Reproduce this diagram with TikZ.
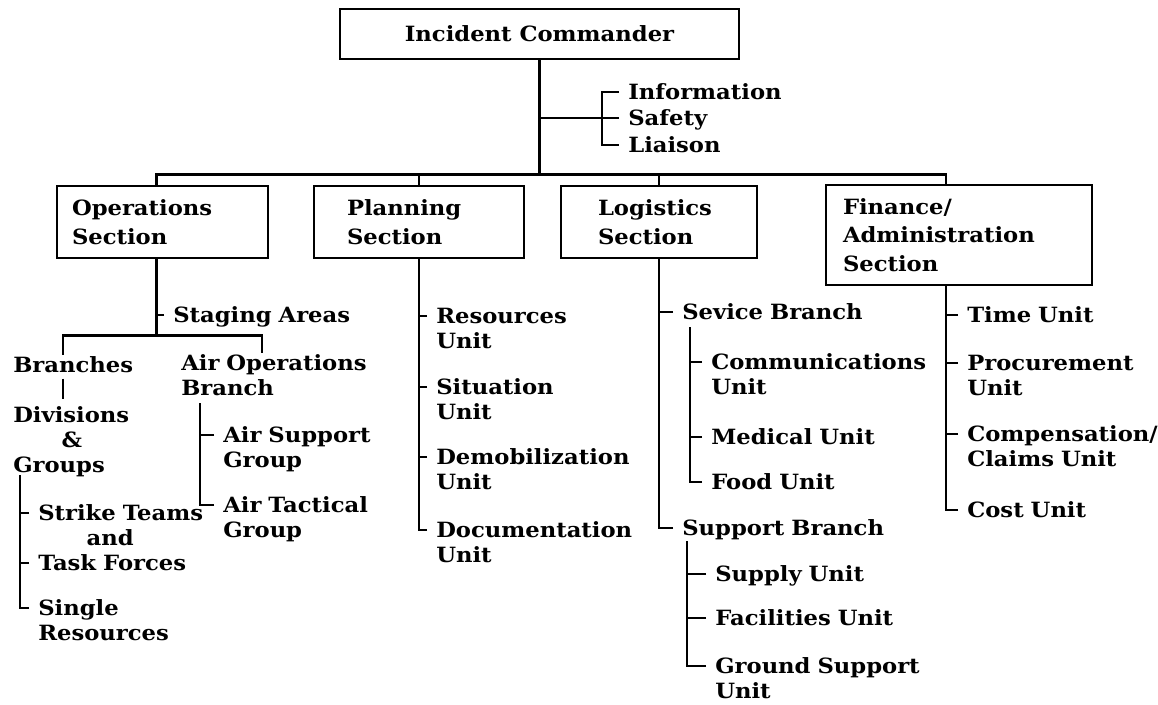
\documentclass[tikz,border=0pt]{standalone}
\usepackage{fontspec}
\setmainfont{DejaVu Serif}[FakeStretch=1.08]

\newcommand\boxfont{\fontsize{21}{28.5}\selectfont\bfseries}
\newcommand\itemfont{\fontsize{21}{25}\selectfont\bfseries}

\tikzset{
  box/.style={draw, line width=2.4pt, inner ysep=0pt, font=\boxfont},
  sect/.style 2 args={box, align=left, inner xsep=#1, text width=#2, minimum height=72pt},
  item/.style={anchor=base west, align=left, text width=10cm, inner sep=0pt, font=\itemfont},
  tk/.style={xshift=-8pt, yshift=7pt}
}

\begin{document}
\begin{tikzpicture}[x=1pt, y=-1pt, line width=2.6pt]
\useasboundingbox (0,0) rectangle (1158,704);

% incident commander and command staff
\node[box, minimum width=399pt, minimum height=50pt] (ic) at (539.5,34) {Incident Commander};
\draw (ic.south) -- ++(0,-114pt) coordinate (bus);
\node[item] (inf) at (627,99) {Information};
\node[item] (saf) at (627,125) {Safety};
\node[item] (lia) at (627,152) {Liaison};
\draw ([tk]inf.base west) -- ++(-17pt,0) |- ([tk]lia.base west);
\draw ([tk]saf.base west) -| (ic.south);

% sections
\node[sect={15pt}{181pt}] (ops) at (162.5,222) {Operations\\Section};
\node[sect={33pt}{144pt}] (pl) at (419,222) {Planning\\Section};
\node[sect={37pt}{122pt}] (lg) at (659,222) {Logistics\\Section};
\node[sect={17pt}{232pt}, minimum height=100pt] (fin) at (959,235) {Finance/\\Administration\\Section};
\draw ([xshift=-6pt]ops.north) |- (bus) -| ([xshift=-13pt]fin.north);
\draw (pl.north) -- (pl.north |- bus);
\draw (lg.north) -- (lg.north |- bus);

% operations
\draw ([xshift=-6pt]ops.south) -- ++(0,-76pt) coordinate (opsb);
\node[item] (stg) at (172,322) {Staging Areas};
\draw ([tk]stg.base west) -| (opsb);
\node[item] (bra) at (12,372) {Branches};
\node[item] (aob) at (180,370) {Air Operations\\Branch};
\draw ([xshift=51pt]bra.north west) |- (opsb) -| ([xshift=82pt]aob.north west);
\node[item] (div) at (12,422) {Divisions\\\hspace*{2.3em}\&\\Groups};
\path ([xshift=51pt]bra.south west |- div.north) coordinate (divt);
\draw ([xshift=51pt,yshift=-5pt]bra.south west) -- ([yshift=6pt]divt);
% divisions and groups
\coordinate (divs) at (20,475);
\node[item] (stf) at (37,520) {Strike Teams\\\hspace*{2.3em}and\\Task Forces};
\node[item] (sgl) at (37,615) {Single\\Resources};
\draw ([tk]sgl.base west) -| (divs);
\draw ([tk]stf.base west) -| (divs);
\draw ([tk,yshift=-50pt]stf.base west) -| (divs);
% air operations
\coordinate (aobs) at (200,403);
\node[item] (ast) at (222,442) {Air Support\\Group};
\node[item] (att) at (222,512) {Air Tactical\\Group};
\foreach \n in {ast,att} \draw ([tk]\n.base west) -| (aobs);

% planning
\node[item] (res) at (435,323) {Resources\\Unit};
\node[item] (sit) at (435,394) {Situation\\Unit};
\node[item] (dem) at (435,464) {Demobilization\\Unit};
\node[item] (doc) at (435,537) {Documentation\\Unit};
\foreach \n in {res,sit,dem,doc} \draw ([tk]\n.base west) -| (pl.south);

% logistics
\node[item] (svc) at (681,319) {Sevice Branch};
\node[item] (spb) at (681,535) {Support Branch};
\foreach \n in {svc,spb} \draw ([tk]\n.base west) -| (lg.south);
\coordinate (svcs) at (690,327);
\node[item] (com) at (710,369) {Communications\\Unit};
\node[item] (med) at (710,444) {Medical Unit};
\node[item] (food) at (710,489) {Food Unit};
\foreach \n in {com,med,food} \draw ([tk]\n.base west) -| (svcs);
\coordinate (spbs) at (687,541);
\node[item] (sup) at (714,581) {Supply Unit};
\node[item] (fac) at (714,625) {Facilities Unit};
\node[item] (gsu) at (714,673) {Ground Support\\Unit};
\foreach \n in {sup,fac,gsu} \draw ([tk]\n.base west) -| (spbs);

% finance / administration
\node[item] (time) at (966,322) {Time Unit};
\node[item] (proc) at (966,370) {Procurement\\Unit};
\node[item] (comp) at (966,441) {Compensation/\\Claims Unit};
\node[item] (cost) at (966,517) {Cost Unit};
\foreach \n in {time,proc,comp,cost} \draw ([tk]\n.base west) -| ([xshift=-13pt]fin.south);
\end{tikzpicture}
\end{document}
